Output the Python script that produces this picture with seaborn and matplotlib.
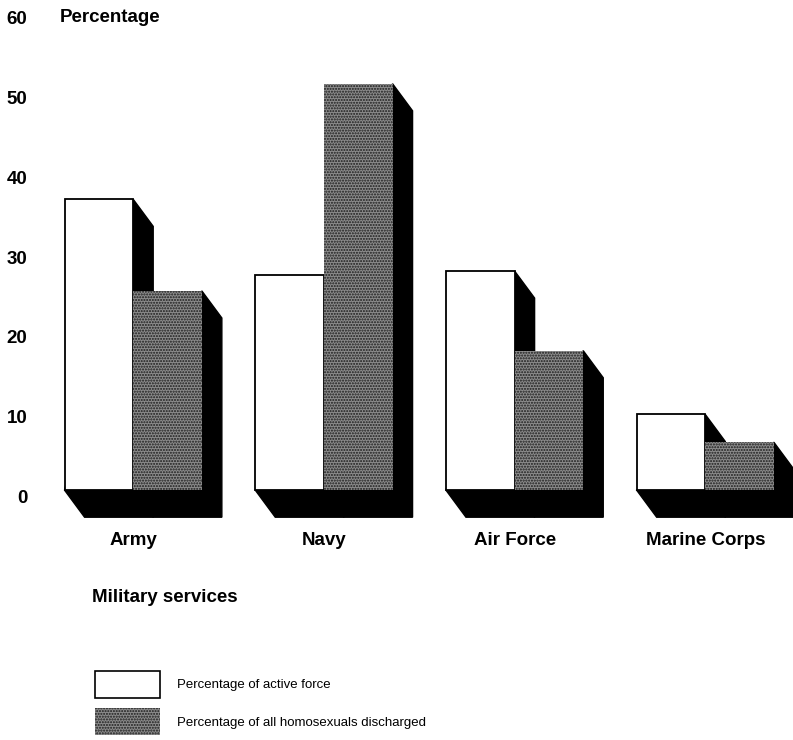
import pandas as pd
import matplotlib.pyplot as plt
import matplotlib.transforms as mtransforms
import seaborn as sns
from matplotlib.patches import Polygon, Patch

# values
services = ['Army', 'Navy', 'Air Force', 'Marine Corps']
active_force = [36.5, 27.0, 27.5, 9.5]
discharged = [25.0, 51.0, 17.5, 6.0]
series = ['Percentage of active force', 'Percentage of all homosexuals discharged']
y_ticks = [0, 10, 20, 30, 40, 50, 60]

df = pd.DataFrame({
    'service': services * 2,
    'pct': active_force + discharged,
    'series': [series[0]] * 4 + [series[1]] * 4,
})

sns.set_style('white')
plt.rcParams['font.family'] = ['Liberation Sans', 'DejaVu Sans']
plt.rcParams['text.color'] = 'black'
plt.rcParams['xtick.color'] = 'black'
plt.rcParams['ytick.color'] = 'black'
plt.rcParams['hatch.linewidth'] = 1.0

GRAY = '#8c8c8c'
DOTS = '#1c1c1c'
BOLD = 13.5

W, H = 793, 740
fig = plt.figure(figsize=(W / 100, H / 100), dpi=100)
ax = fig.add_axes([55 / W, (H - 522) / H, 738 / W, 510 / H])

sns.barplot(data=df, x='service', y='pct', hue='series', hue_order=series,
            palette={series[0]: 'white', series[1]: GRAY},
            width=0.72, saturation=1, legend=False, ax=ax, zorder=3)

ax.set_xlim(-0.41, 3.46)
ax.set_ylim(-4, 60)

# 3d look: black side and bottom faces behind each front face
dx, dy = 0.105, -3.4
for p in ax.patches:
    x0 = p.get_x()
    x1 = x0 + p.get_width()
    h = p.get_height()
    shade = Polygon([(x1, h), (x1 + dx, h + dy), (x1 + dx, dy), (x0 + dx, dy), (x0, 0)],
                    closed=True, facecolor='black', edgecolor='black', zorder=1)
    ax.add_patch(shade)
    if p.get_facecolor()[0] < 0.9:
        p.set_hatch('......')
        p.set_edgecolor(DOTS)
        p.set_linewidth(0)
    else:
        p.set_edgecolor('black')
        p.set_linewidth(1.3)

sns.despine(ax=ax, left=True, bottom=True)
ax.set_yticks(y_ticks)
ax.set_yticklabels([str(t) for t in y_ticks], fontweight='bold', fontsize=BOLD)
ax.tick_params(axis='y', length=0, pad=20)
ax.tick_params(axis='x', length=0, pad=7, labelsize=BOLD)
shift = mtransforms.ScaledTranslation(0, -6 / 100, fig.dpi_scale_trans)
for lbl in ax.get_yticklabels():
    lbl.set_transform(lbl.get_transform() + shift)
for lbl in ax.get_xticklabels():
    lbl.set_fontweight('bold')
ax.set_xlabel('')
ax.set_ylabel('')

fig.text(60 / W, 1 - 18 / H, 'Percentage', fontsize=BOLD, fontweight='bold', va='center')
fig.text(92 / W, 1 - 597 / H, 'Military services', fontsize=BOLD, fontweight='bold', va='center')

handles = [Patch(facecolor='white', edgecolor='black', linewidth=1.2),
           Patch(facecolor=GRAY, edgecolor=DOTS, hatch='......', linewidth=0)]
fig.legend(handles, series, loc='upper left', bbox_to_anchor=(95 / W, 1 - 671 / H),
           frameon=False, fontsize=9.5, handlelength=4.9, handleheight=2.75,
           labelspacing=0.8, handletextpad=1.35, borderpad=0, borderaxespad=0)

plt.savefig('out.png', dpi=100)
